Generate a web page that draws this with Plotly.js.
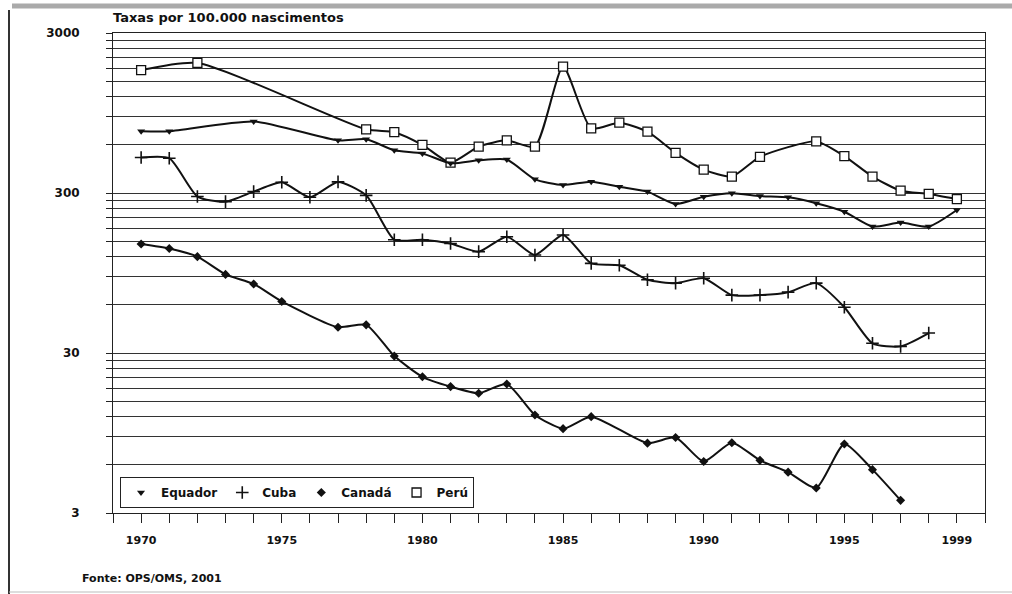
<!DOCTYPE html>
<html>
<head>
<meta charset="utf-8">
<script src="https://cdn.plot.ly/plotly-3.0.1.min.js"></script>
<style>
  html, body { margin: 0; padding: 0; background: #ffffff; }
  #chart { width: 1012px; height: 594px; }
</style>
</head>
<body>
<div id="chart"></div>
<script>
// ---- Data (rates per 100,000 births) ----
const peruYears = [1970, 1972, 1978, 1979, 1980, 1981, 1982, 1983, 1984, 1985, 1986, 1987, 1988, 1989, 1990, 1991, 1992, 1994, 1995, 1996, 1997, 1998, 1999];
const peruValues = [1760, 1950, 750, 720, 600, 465, 585, 640, 585, 1850, 760, 825, 725, 535, 420, 380, 505, 630, 510, 380, 310, 296, 275];

const equadorYears = [1970, 1971, 1974, 1977, 1978, 1979, 1980, 1981, 1982, 1983, 1984, 1985, 1986, 1987, 1988, 1989, 1990, 1991, 1992, 1993, 1994, 1995, 1996, 1997, 1998, 1999];
const equadorValues = [730, 730, 840, 640, 650, 555, 530, 460, 480, 485, 365, 337, 353, 328, 306, 256, 284, 299, 287, 282, 259, 229, 185, 196, 185, 235];

const cubaYears = [1970, 1971, 1972, 1973, 1974, 1975, 1976, 1977, 1978, 1979, 1980, 1981, 1982, 1983, 1984, 1985, 1986, 1987, 1988, 1989, 1990, 1991, 1992, 1993, 1994, 1995, 1996, 1997, 1998];
const cubaValues = [500, 495, 285, 265, 306, 350, 282, 352, 290, 153, 153, 145, 129, 160, 123, 164, 109, 106, 86, 82, 88, 69, 69, 72, 82, 58, 34.5, 33, 40];

const canadaYears = [1970, 1971, 1972, 1973, 1974, 1975, 1977, 1978, 1979, 1980, 1981, 1982, 1983, 1984, 1985, 1986, 1988, 1989, 1990, 1991, 1992, 1993, 1994, 1995, 1996, 1997];
const canadaValues = [144, 135, 120, 93, 81, 63, 43.5, 45, 28.7, 21.3, 18.5, 16.8, 19.2, 12.3, 10.1, 12.0, 8.2, 8.9, 6.3, 8.25, 6.4, 5.4, 4.3, 8.1, 5.6, 3.6];

const seriesNames = ["Equador", "Cuba", "Canadá", "Perú"];

// ---- Axis ticks ----
const xTickYears = [];
for (let y = 1969; y <= 2000; y++) xTickYears.push(y);
const xLabelYears = [1970, 1975, 1980, 1985, 1990, 1995, 1999];
const xTickText = xTickYears.map(y => xLabelYears.includes(y) ? String(y) : "");

const yLabelValues = [3, 30, 300, 3000];
const yGridMultipliers = [1, 2, 3, 4, 5, 6, 7, 8, 9];
const yTickVals = [];
[3, 30, 300].forEach(base => yGridMultipliers.forEach(m => yTickVals.push(base * m)));
yTickVals.push(3000);
const yTickText = yTickVals.map(v => yLabelValues.includes(v) ? String(v) : "");

// ---- Styles ----
const lineStyle = { color: "#111111", width: 2, shape: "spline", smoothing: 0.6 };
const markerStyles = {
  "Equador": { symbol: "triangle-down", size: 7, color: "#111111" },
  "Cuba": { symbol: "cross-thin-open", size: 9, color: "#111111", line: { color: "#111111", width: 1.6 } },
  "Canadá": { symbol: "diamond", size: 7, color: "#111111" },
  "Perú": { symbol: "square", size: 9, color: "#ffffff", line: { color: "#111111", width: 1.3 } }
};

function seriesTrace(name, xs, ys) {
  return {
    type: "scatter", mode: "lines+markers", name: name,
    x: xs, y: ys, line: lineStyle, marker: markerStyles[name],
    showlegend: false, hoverinfo: "x+y+name"
  };
}
function legendTrace(name) {
  return {
    type: "scatter", mode: "markers", name: name,
    x: [null], y: [null], marker: markerStyles[name], showlegend: true
  };
}

const traces = [
  seriesTrace("Perú", peruYears, peruValues),
  seriesTrace("Equador", equadorYears, equadorValues),
  seriesTrace("Cuba", cubaYears, cubaValues),
  seriesTrace("Canadá", canadaYears, canadaValues)
].concat(seriesNames.map(legendTrace));

const FONT = "DejaVu Sans, Liberation Sans, Arial, sans-serif";

const layout = {
  width: 1012, height: 594,
  margin: { l: 113, r: 27, t: 33, b: 81, pad: 0 },
  paper_bgcolor: "#ffffff", plot_bgcolor: "#ffffff",
  font: { family: FONT, color: "#111111" },
  title: {
    text: "Taxas por 100.000 nascimentos",
    font: { family: FONT, size: 13, weight: "bold", color: "#111111" },
    xref: "container", x: 113 / 1012, xanchor: "left",
    yref: "container", y: 1 - 17 / 594, yanchor: "middle"
  },
  xaxis: {
    type: "linear", range: [1969, 2000],
    tickmode: "array", tickvals: xTickYears, ticktext: xTickText,
    ticks: "outside", ticklen: 9, tickwidth: 1, tickcolor: "#222222",
    tickfont: { family: FONT, size: 11, weight: "bold", color: "#111111" },
    ticklabelstandoff: 8,
    showgrid: false, zeroline: false,
    showline: true, linecolor: "#222222", linewidth: 1, mirror: true
  },
  yaxis: {
    type: "log", range: [Math.log10(3), Math.log10(3000)],
    tickmode: "array", tickvals: yTickVals, ticktext: yTickText,
    ticks: "outside", ticklen: 6, tickwidth: 1, tickcolor: "#222222",
    tickfont: { family: FONT, size: 12, weight: "bold", color: "#111111" },
    ticklabelstandoff: 24,
    showgrid: true, gridcolor: "#333333", gridwidth: 1,
    zeroline: false,
    showline: true, linecolor: "#222222", linewidth: 1, mirror: true
  },
  legend: {
    orientation: "h",
    x: 7 / 872, xanchor: "left",
    y: (513 - 477) / 480, yanchor: "top",
    bgcolor: "#ffffff", bordercolor: "#222222", borderwidth: 1,
    font: { family: FONT, size: 12, weight: "bold", color: "#111111" },
    itemwidth: 30, tracegroupgap: 0, traceorder: "normal"
  },
  annotations: [
    {
      text: "Fonte: OPS/OMS, 2001",
      xref: "paper", yref: "paper",
      x: (80 - 113) / 872, y: (513 - 578) / 480,
      xanchor: "left", yanchor: "middle", showarrow: false,
      font: { family: FONT, size: 11, weight: "bold", color: "#111111" }
    }
  ],
  shapes: [
    // scanned page frame: left dark rule, top grey bar, bottom faint rule
    { type: "line", xref: "paper", yref: "paper",
      x0: (9 - 113) / 872, x1: (9 - 113) / 872, y0: (513 - 10) / 480, y1: (513 - 594) / 480,
      line: { color: "#333333", width: 2 } },
    { type: "line", xref: "paper", yref: "paper",
      x0: (12 - 113) / 872, x1: (1012 - 113) / 872, y0: (513 - 6) / 480, y1: (513 - 6) / 480,
      line: { color: "#aaaaaa", width: 5 } },
    { type: "line", xref: "paper", yref: "paper",
      x0: (9 - 113) / 872, x1: (1012 - 113) / 872, y0: (513 - 592) / 480, y1: (513 - 592) / 480,
      line: { color: "#bbbbbb", width: 1 } }
  ]
};

Plotly.newPlot("chart", traces, layout, { staticPlot: true, displayModeBar: false });
</script>
</body>
</html>
